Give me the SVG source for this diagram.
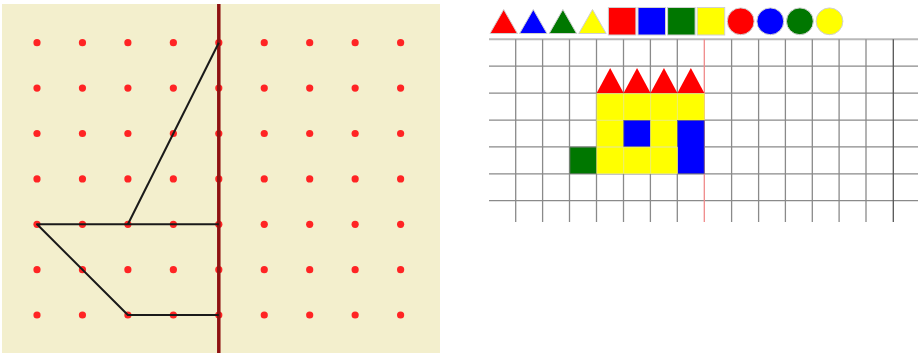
<svg xmlns="http://www.w3.org/2000/svg" xmlns:xlink="http://www.w3.org/1999/xlink" width="918" height="353" viewBox="0 0 918 353">
<style>
.dot{fill:#ff2424}
.fig{stroke:#1a1a1a;stroke-width:2;fill:none;stroke-linejoin:round}
.g{stroke:#8a8a8a;stroke-width:1.3}
.pal{stroke:#d0d0d0;stroke-width:1}
.y{fill:#ffff00;stroke:#f0f070;stroke-width:0.8}
.b{fill:#0000ff;stroke:#5a5a8a;stroke-width:0.8}
.gr{fill:#007700;stroke:#557755;stroke-width:0.8}
.r{fill:#ff0000}
</style>
<defs>
<circle id="d" r="3.6" class="dot"/>
</defs>
<rect x="0" y="0" width="918" height="353" fill="#ffffff"/>
<g id="geoboard">
<rect x="2" y="4" width="438" height="349" fill="#f3efcd"/>
<g id="dots">
<use xlink:href="#d" x="37" y="42.7"/><use xlink:href="#d" x="82.45" y="42.7"/><use xlink:href="#d" x="127.9" y="42.7"/><use xlink:href="#d" x="173.35" y="42.7"/><use xlink:href="#d" x="218.8" y="42.7"/><use xlink:href="#d" x="264.25" y="42.7"/><use xlink:href="#d" x="309.7" y="42.7"/><use xlink:href="#d" x="355.15" y="42.7"/><use xlink:href="#d" x="400.6" y="42.7"/>
<use xlink:href="#d" x="37" y="88.1"/><use xlink:href="#d" x="82.45" y="88.1"/><use xlink:href="#d" x="127.9" y="88.1"/><use xlink:href="#d" x="173.35" y="88.1"/><use xlink:href="#d" x="218.8" y="88.1"/><use xlink:href="#d" x="264.25" y="88.1"/><use xlink:href="#d" x="309.7" y="88.1"/><use xlink:href="#d" x="355.15" y="88.1"/><use xlink:href="#d" x="400.6" y="88.1"/>
<use xlink:href="#d" x="37" y="133.5"/><use xlink:href="#d" x="82.45" y="133.5"/><use xlink:href="#d" x="127.9" y="133.5"/><use xlink:href="#d" x="173.35" y="133.5"/><use xlink:href="#d" x="218.8" y="133.5"/><use xlink:href="#d" x="264.25" y="133.5"/><use xlink:href="#d" x="309.7" y="133.5"/><use xlink:href="#d" x="355.15" y="133.5"/><use xlink:href="#d" x="400.6" y="133.5"/>
<use xlink:href="#d" x="37" y="178.9"/><use xlink:href="#d" x="82.45" y="178.9"/><use xlink:href="#d" x="127.9" y="178.9"/><use xlink:href="#d" x="173.35" y="178.9"/><use xlink:href="#d" x="218.8" y="178.9"/><use xlink:href="#d" x="264.25" y="178.9"/><use xlink:href="#d" x="309.7" y="178.9"/><use xlink:href="#d" x="355.15" y="178.9"/><use xlink:href="#d" x="400.6" y="178.9"/>
<use xlink:href="#d" x="37" y="224.3"/><use xlink:href="#d" x="82.45" y="224.3"/><use xlink:href="#d" x="127.9" y="224.3"/><use xlink:href="#d" x="173.35" y="224.3"/><use xlink:href="#d" x="218.8" y="224.3"/><use xlink:href="#d" x="264.25" y="224.3"/><use xlink:href="#d" x="309.7" y="224.3"/><use xlink:href="#d" x="355.15" y="224.3"/><use xlink:href="#d" x="400.6" y="224.3"/>
<use xlink:href="#d" x="37" y="269.7"/><use xlink:href="#d" x="82.45" y="269.7"/><use xlink:href="#d" x="127.9" y="269.7"/><use xlink:href="#d" x="173.35" y="269.7"/><use xlink:href="#d" x="218.8" y="269.7"/><use xlink:href="#d" x="264.25" y="269.7"/><use xlink:href="#d" x="309.7" y="269.7"/><use xlink:href="#d" x="355.15" y="269.7"/><use xlink:href="#d" x="400.6" y="269.7"/>
<use xlink:href="#d" x="37" y="315"/><use xlink:href="#d" x="82.45" y="315"/><use xlink:href="#d" x="127.9" y="315"/><use xlink:href="#d" x="173.35" y="315"/><use xlink:href="#d" x="218.8" y="315"/><use xlink:href="#d" x="264.25" y="315"/><use xlink:href="#d" x="309.7" y="315"/><use xlink:href="#d" x="355.15" y="315"/><use xlink:href="#d" x="400.6" y="315"/>
</g>
<line x1="218.8" y1="4" x2="218.8" y2="353" stroke="#8e1212" stroke-width="3.5"/>
<g id="sailboat">
<polyline class="fig" points="218.8,42.7 127.9,224.3"/>
<polyline class="fig" points="218.8,224.3 37,224.3 127.9,315 218.8,315"/>
</g>
</g>
<g id="palette">
<polygon class="pal" points="490,33.5 503.7,9.5 517.4,33.5" fill="#ff0000"/>
<polygon class="pal" points="519.6,33.5 533.3,9.5 547,33.5" fill="#0000ff"/>
<polygon class="pal" points="549.2,33.5 562.9,9.5 576.6,33.5" fill="#007700"/>
<polygon class="pal" points="578.8,33.5 592.5,9.5 606.2,33.5" fill="#ffff00"/>
<rect class="pal" x="608.4" y="7.5" width="27.5" height="27.5" fill="#ff0000"/>
<rect class="pal" x="638" y="7.5" width="27.5" height="27.5" fill="#0000ff"/>
<rect class="pal" x="667.6" y="7.5" width="27.5" height="27.5" fill="#007700"/>
<rect class="pal" x="697.2" y="7.5" width="27.5" height="27.5" fill="#ffff00"/>
<circle class="pal" cx="740.7" cy="21.3" r="13.4" fill="#ff0000"/>
<circle class="pal" cx="770.3" cy="21.3" r="13.4" fill="#0000ff"/>
<circle class="pal" cx="799.9" cy="21.3" r="13.4" fill="#007700"/>
<circle class="pal" cx="829.5" cy="21.3" r="13.4" fill="#ffff00"/>
</g>
<g id="grid">
<rect x="489" y="39.3" width="429" height="183" fill="#ffffff"/>
<g id="gridlines" class="g">
<line x1="489" y1="39.3" x2="918" y2="39.3" stroke="#b8b8b8" stroke-width="2"/>
<line x1="489" y1="66.2" x2="918" y2="66.2"/>
<line x1="489" y1="93.1" x2="918" y2="93.1"/>
<line x1="489" y1="120.1" x2="918" y2="120.1"/>
<line x1="489" y1="146.9" x2="918" y2="146.9"/>
<line x1="489" y1="173.8" x2="918" y2="173.8"/>
<line x1="489" y1="200.7" x2="918" y2="200.7"/>
<line x1="515.7" y1="39.3" x2="515.7" y2="222"/>
<line x1="542.6" y1="39.3" x2="542.6" y2="222"/>
<line x1="569.5" y1="39.3" x2="569.5" y2="222"/>
<line x1="596.5" y1="39.3" x2="596.5" y2="222"/>
<line x1="623.5" y1="39.3" x2="623.5" y2="222"/>
<line x1="650.4" y1="39.3" x2="650.4" y2="222"/>
<line x1="677.3" y1="39.3" x2="677.3" y2="222"/>
<line x1="731.6" y1="39.3" x2="731.6" y2="222"/>
<line x1="758.6" y1="39.3" x2="758.6" y2="222"/>
<line x1="785.4" y1="39.3" x2="785.4" y2="222"/>
<line x1="812.3" y1="39.3" x2="812.3" y2="222"/>
<line x1="839.1" y1="39.3" x2="839.1" y2="222"/>
<line x1="866" y1="39.3" x2="866" y2="222"/>
<line x1="893.3" y1="39.3" x2="893.3" y2="222" stroke="#555"/>
</g>
<line x1="704.3" y1="39.3" x2="704.3" y2="222" stroke="#f08a8a" stroke-width="1.3"/>
<g id="picture">
<rect class="y" x="596.9" y="93.8" width="26.6" height="26.4"/>
<rect class="y" x="623.8" y="93.8" width="26.6" height="26.4"/>
<rect class="y" x="650.7" y="93.8" width="26.6" height="26.4"/>
<rect class="y" x="677.6" y="93.8" width="26.6" height="26.4"/>
<rect class="y" x="596.9" y="120.4" width="26.6" height="26.4"/>
<rect class="b" x="623.8" y="120.4" width="26.6" height="26.4"/>
<rect class="y" x="650.7" y="120.4" width="26.6" height="26.4"/>
<rect class="b" x="677.6" y="120.4" width="26.6" height="53.3"/>
<rect class="gr" x="570" y="147.2" width="26.6" height="26.4"/>
<rect class="y" x="596.9" y="147.2" width="26.6" height="26.4"/>
<rect class="y" x="623.8" y="147.2" width="26.6" height="26.4"/>
<rect class="y" x="650.7" y="147.2" width="26.6" height="26.4"/>
<polygon class="r" points="596.7,93 610.15,68 623.6,93"/>
<polygon class="r" points="623.6,93 637.05,68 650.5,93"/>
<polygon class="r" points="650.5,93 663.95,68 677.4,93"/>
<polygon class="r" points="677.4,93 690.85,68 704.3,93"/>
</g>
</g>
</svg>
